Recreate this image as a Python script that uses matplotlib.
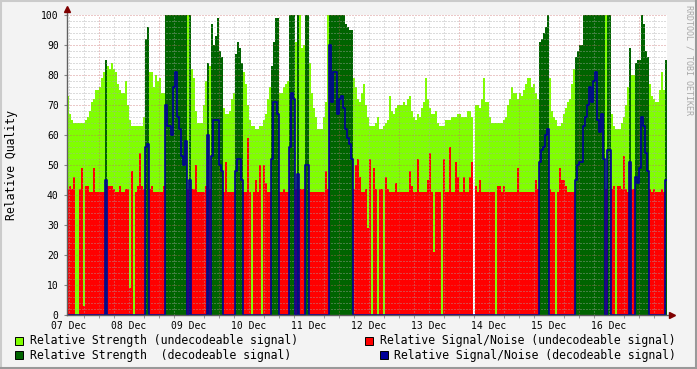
import numpy as np
import matplotlib
matplotlib.use("Agg")
import matplotlib.pyplot as plt
from matplotlib.patches import Rectangle
from matplotlib.lines import Line2D

plt.rcParams['font.family'] = ['DejaVu Sans Mono']
plt.rcParams['lines.scale_dashes'] = False

W, H = 697, 369
STEP = 0.8    # hours per sample (48 min)
START = -0.8  # first sample, hours after 07 Dec 00:00

day_labels = ['07 Dec', '08 Dec', '09 Dec', '10 Dec', '11 Dec',
              '12 Dec', '13 Dec', '14 Dec', '15 Dec', '16 Dec']

nan = float('nan')

# relative strength, one row per day (30 samples each)
strength = [
    73, 67, 65, 64, 64, 64, 64, 64, 64, 65, 66, 68, 71, 72, 75, 75, 76, 79, 81, 85, 83, 82, 84, 82, 81, 77, 75, 74, 74, 78,
    70, 65, 63, 63, 63, 63, 63, 63, 66, 92, 96, 81, 81, 76, 80, 78, 79, 74, 74, 100, 100, 100, 100, 100, 100, 100, 100, 100, 100, 100,
    100, 100, 82, 79, 68, 64, 64, 64, 70, 78, 84, 83, 97, 90, 93, 99, 88, 86, 69, 67, 67, 68, 72, 74, 87, 91, 89, 84, 81, 77,
    70, 65, 63, 63, 62, 62, 63, 63, 65, 67, 72, 76, 83, 91, 99, 99, 74, 74, 76, 77, 78, 100, 100, 100, 91, 100, 100, 89, 90, 100,
    100, 84, 74, 69, 66, 62, 62, 62, 66, 71, 100, 100, 100, 100, 100, 100, 100, 100, 100, 97, 96, 95, 95, 79, 76, 72, 71, 74, 77, 70,
    66, 63, 63, 63, 64, 66, 62, 62, 63, 64, 65, 73, 68, 67, 69, 70, 70, 70, 71, 70, 72, 73, 68, 66, 65, 67, 66, 69, 71, 79,
    72, 69, 67, 67, 68, 64, 63, 63, 63, 65, 65, 65, 66, 66, 66, 67, 67, 66, 66, 66, 68, 68, 66, nan, 70, 70, 69, 72, 79, 71,
    71, 66, 64, 64, 64, 64, 64, 64, 65, 66, 70, 72, 76, 74, 74, 72, 74, 73, 75, 77, 79, 79, 76, 77, 74, 72, 91, 92, 94, 96,
    100, 79, 68, 66, 65, 63, 63, 64, 67, 69, 71, 72, 77, 82, 86, 88, 90, 90, 100, 100, 100, 100, 100, 100, 100, 100, 100, 100, 100, 100,
    100, 100, 67, 63, 62, 62, 62, 64, 66, 70, 76, 89, 80, 80, 84, 85, 85, 100, 97, 88, 86, 77, 73, 72, 71, 71, 75, 81, 75, 85,
]

# relative signal/noise
snr = [
    42, 43, 42, 46, 0, 0, 42, 49, 3, 43, 43, 41, 41, 49, 41, 41, 41, 41, 41, 45, 43, 43, 43, 42, 41, 41, 43, 41, 41, 42,
    42, 9, 48, 0, 41, 43, 54, 43, 42, 56, 57, 42, 43, 41, 41, 41, 41, 41, 43, 70, 63, 63, 60, 76, 81, 66, 62, 53, 50, 58,
    42, 45, 42, 42, 50, 41, 41, 41, 41, 43, 60, 42, 53, 65, 65, 65, 50, 48, 41, 51, 41, 41, 41, 41, 48, 52, 52, 45, 41, 41,
    59, 41, 0, 41, 45, 41, 50, 0, 50, 44, 41, 41, 52, 71, 71, 67, 41, 41, 42, 41, 41, 56, 74, 72, 42, 47, 42, 42, 42, 50,
    50, 41, 41, 41, 41, 41, 41, 41, 41, 48, 42, 90, 71, 81, 81, 67, 72, 73, 69, 62, 59, 57, 52, 42, 50, 52, 46, 41, 41, 42,
    29, 52, 0, 49, 42, 0, 42, 42, 0, 46, 42, 41, 41, 41, 44, 41, 41, 41, 41, 41, 41, 48, 43, 41, 41, 52, 41, 41, 41, 41,
    45, 54, 41, 21, 41, 41, 41, 0, 52, 41, 41, 56, 41, 41, 51, 46, 41, 41, 46, 41, 41, 46, 51, nan, 43, 41, 45, 41, 41, 41,
    41, 41, 41, 41, 0, 43, 43, 41, 43, 41, 41, 41, 41, 41, 41, 49, 41, 41, 41, 41, 41, 41, 41, 41, 45, 42, 51, 55, 56, 60,
    62, 42, 41, 41, 0, 41, 49, 45, 45, 43, 41, 41, 41, 41, 45, 50, 51, 51, 63, 66, 70, 76, 71, 78, 81, 65, 61, 67, 52, 42,
    55, 55, 42, 43, 0, 43, 43, 42, 53, 42, 41, 51, 42, 42, 46, 44, 49, 66, 63, 54, 48, 42, 41, 42, 41, 41, 41, 42, 41, 45,
]

# 1 = signal could be decoded
decoded = ("000000000000000000010000000000"
           "000000000110000000011111111111"
           "010000000010111111000000111100"
           "000000000000111100000111010001"
           "100000000001111111111110000000"
           "000000000000000000000000000000"
           "000000000000000000000000000000"
           "000000000000000000000000001111"
           "100000000000001111111111111110"
           "110000000001001111111000000001")

strength = np.array(strength, float)
snr = np.array(snr, float)
dec = np.array([c == '1' for c in decoded])
n = len(strength)
t = START + STEP * np.arange(n)

fig = plt.figure(figsize=(W / 100, H / 100), dpi=100, facecolor='#F3F3F3')
ax = fig.add_axes([67 / W, 1 - 315 / H, 600 / W, 300 / H])
ax.set_facecolor('white')
ax.set_xlim(t[0], t[-1] + STEP)
ax.set_ylim(0, 100)
for s in ax.spines.values():
    s.set_visible(False)

bar_kw = dict(width=STEP, align='edge', linewidth=0, antialiased=False, zorder=1)
ok = ~np.isnan(strength)
m = ok & ~dec
ax.bar(t[m], strength[m], color='#80FF00', **bar_kw)
ax.bar(t[m], snr[m], color='#FF0000', **bar_kw)
m = ok & dec
ax.bar(t[m], strength[m], color='#006400', **bar_kw)
blue = np.nan_to_num(np.where(dec, snr, 0.0))
ax.step(np.append(t, t[-1] + STEP), np.append(blue, blue[-1]), where='post',
        color='#000099', lw=1.2, zorder=3)

# grid
dots = (0, (0.72, 1.44))
for v in range(2, 101, 2):
    if v % 10:
        ax.axhline(v, color='#A8A8A8', lw=0.72, ls=dots, alpha=0.8, zorder=2.5)
    else:
        ax.axhline(v, color='#C86464', lw=0.72, ls=dots, alpha=0.7, zorder=2.5)
for h in range(0, 240, 6):
    if h % 24 == 12:
        ax.axvline(h, color='#C86464', lw=0.72, ls=dots, alpha=0.7, zorder=2.5)
    else:
        ax.axvline(h, color='#A8A8A8', lw=0.72, ls=dots, alpha=0.8, zorder=2.5)

# ticks
ax.set_xticks([24 * i for i in range(len(day_labels))], day_labels)
ax.set_xticks(range(0, 240, 6), minor=True)
ax.tick_params(axis='x', which='major', length=0, pad=4, labelsize=7)
ax.tick_params(axis='x', which='minor', length=2, color='#888888', direction='out')
ax.set_yticks(range(0, 101, 10))
ax.tick_params(axis='y', length=2, color='#888888', pad=4, labelsize=7)

# axes with arrows
ax.plot([0, 0], [0, 1.02], transform=ax.transAxes, color='#606060', lw=1, clip_on=False, zorder=5)
ax.plot([0, 1.008], [0, 0], transform=ax.transAxes, color='#606060', lw=1, clip_on=False, zorder=5)
ax.plot(0, 1.02, marker='^', ms=4, color='#7F0000', transform=ax.transAxes, clip_on=False, zorder=6)
ax.plot(1.008, 0, marker='>', ms=4, color='#7F0000', transform=ax.transAxes, clip_on=False, zorder=6)

fig.text(12 / W, 1 - 165 / H, 'Relative Quality', rotation=90, ha='center', va='center', fontsize=8.3)
fig.text(689 / W, 1 - 60 / H, 'RRDTOOL / TOBI OETIKER', rotation=270, ha='center', va='center',
         fontsize=6, color='#A8A8A8')

# legend
legend = [
    (15, 340.5, 30, '#80FF00', 'Relative Strength (undecodeable signal)'),
    (15, 355, 30, '#006400', 'Relative Strength  (decodeable signal)'),
    (365, 340.5, 380, '#FF0000', 'Relative Signal/Noise (undecodeable signal)'),
    (379.5, 355, 394.3, '#000099', 'Relative Signal/Noise (decodeable signal)'),
]
for bx, cy, tx, col, label in legend:
    fig.patches.append(Rectangle((bx / W, 1 - (cy + 4) / H), 8 / W, 8 / H, transform=fig.transFigure,
                                 facecolor=col, edgecolor='black', lw=0.7))
    fig.text(tx / W, 1 - cy / H, label, ha='left', va='center', fontsize=8.3)

# 3d-ish border
fig.lines.append(Line2D([0, 1], [1 - 1 / H, 1 - 1 / H], transform=fig.transFigure, color='#CBCBCB', lw=1.5))
fig.lines.append(Line2D([1 / W, 1 / W], [0, 1], transform=fig.transFigure, color='#CBCBCB', lw=1.5))
fig.lines.append(Line2D([0, 1], [1 / H, 1 / H], transform=fig.transFigure, color='#999999', lw=1.5))
fig.lines.append(Line2D([1 - 1 / W, 1 - 1 / W], [0, 1], transform=fig.transFigure, color='#999999', lw=1.5))

fig.savefig('out.png', dpi=100, facecolor=fig.get_facecolor())
